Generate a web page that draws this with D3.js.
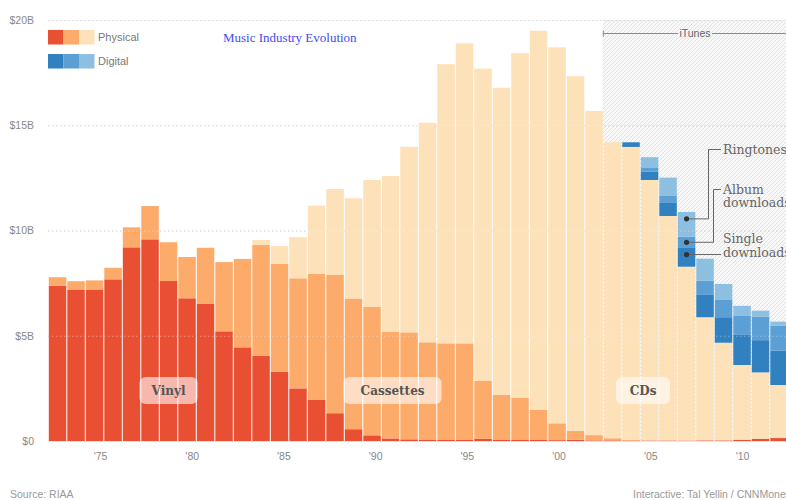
<!DOCTYPE html>
<html><head><meta charset="utf-8">
<script src="https://cdn.jsdelivr.net/npm/d3@7"></script>
<style>body{margin:0;background:#fff}svg{display:block;overflow:hidden}</style>
</head><body><svg id="c" width="786" height="500"></svg>
<script>
// ---- DATA (billions of dollars, inflation-adjusted) ----
const years = [1973,1974,1975,1976,1977,1978,1979,1980,1981,1982,1983,1984,1985,1986,1987,1988,1989,1990,1991,1992,1993,1994,1995,1996,1997,1998,1999,2000,2001,2002,2003,2004,2005,2006,2007,2008,2009,2010,2011,2012];
const vinyl = [7.38,7.20,7.20,7.68,9.20,9.58,7.60,6.78,6.51,5.21,4.45,4.05,3.29,2.50,1.97,1.32,0.56,0.27,0.12,0.08,0.05,0.05,0.05,0.10,0.07,0.05,0.05,0.04,0.06,0.03,0.03,0.02,0.02,0.02,0.02,0.03,0.03,0.06,0.10,0.14];
const cassettes = [0.40,0.39,0.43,0.55,0.95,1.58,1.84,1.96,2.67,3.29,4.20,5.28,5.12,5.23,5.98,6.57,6.21,6.11,5.07,5.08,4.64,4.59,4.59,2.75,2.13,2.01,1.44,0.80,0.42,0.25,0.10,0.03,0.01,0.01,0,0,0,0,0,0];
const cds = [0,0,0,0,0,0,0,0,0,0,0,0.22,0.85,1.95,3.23,4.08,4.76,6.02,7.40,8.82,10.43,13.26,14.25,14.84,14.58,16.36,18.00,17.86,16.85,15.40,14.06,13.92,12.37,10.66,8.26,5.85,4.64,3.55,3.16,2.52];
const singles = [0,0,0,0,0,0,0,0,0,0,0,0,0,0,0,0,0,0,0,0,0,0,0,0,0,0,0,0,0,0,0,0.22,0.39,0.65,0.89,1.06,1.21,1.43,1.53,1.63];
const albums = [0,0,0,0,0,0,0,0,0,0,0,0,0,0,0,0,0,0,0,0,0,0,0,0,0,0,0,0,0,0,0,0,0.21,0.30,0.54,0.67,0.82,0.90,1.11,1.19];
const ringtones = [0,0,0,0,0,0,0,0,0,0,0,0,0,0,0,0,0,0,0,0,0,0,0,0,0,0,0,0,0,0,0,0,0.48,0.87,1.17,1.05,0.76,0.48,0.29,0.19];

const yTicks = [0,5,10,15,20];
const yTickLabels = ["$0","$5B","$10B","$15B","$20B"];
const xTickYears = [1975,1980,1985,1990,1995,2000,2005,2010];
const xTickLabels = ["'75","'80","'85","'90","'95","'00","'05","'10"];

const keys = ["vinyl","cassettes","cds","singles","albums","ringtones"];
const colors = {vinyl:"#e94f33",cassettes:"#fcab6b",cds:"#fde1b8",singles:"#3180c0",albums:"#5b9fd5",ringtones:"#8cbfe0"};

const table = years.map((yr,i)=>({year:yr,vinyl:vinyl[i],cassettes:cassettes[i],cds:cds[i],singles:singles[i],albums:albums[i],ringtones:ringtones[i]}));

// ---- SCALES ----
const svg = d3.select("#c");
const x = d3.scaleBand().domain(years).range([48.8, 787.8]).paddingInner(0.054);
const y = d3.scaleLinear().domain([0,20]).range([441,20]);
const xt = d3.scaleLinear().domain([1975,2010]).range([100,742]);
const sans = "'Liberation Sans Narrow','Arial Narrow','Liberation Sans',Arial,sans-serif";
const serif = "'DejaVu Serif',Georgia,serif";

// ---- HATCH (iTunes era) ----
const defs = svg.append("defs");
const pat = defs.append("pattern").attr("id","hatch").attr("patternUnits","userSpaceOnUse")
  .attr("width",4).attr("height",4);
pat.append("rect").attr("width",4).attr("height",4).attr("fill","#f8f8f8");
pat.append("path").attr("d","M-1,1 l2,-2 M0,4 l4,-4 M3,5 l2,-2").attr("stroke","#e2e2e2").attr("stroke-width",1);

svg.append("rect").attr("x",x(2003)-1).attr("y",y(20)).attr("width",786-(x(2003)-1)).attr("height",y(0)-y(20))
  .attr("fill","url(#hatch)");

// ---- GRID ----
svg.append("g").selectAll("line").data(yTicks.filter(d=>d>0)).join("line")
  .attr("x1",48).attr("x2",786).attr("y1",d=>y(d)+0.5).attr("y2",d=>y(d)+0.5)
  .attr("stroke","#c8c8c8").attr("stroke-dasharray","1.5,2.5");

// ---- BARS ----
const series = d3.stack().keys(keys)(table);
svg.append("g").selectAll("g").data(series).join("g").attr("fill",s=>colors[s.key])
  .selectAll("rect").data(s=>s.filter(d=>d[1]-d[0]>0)).join("rect")
  .attr("x",d=>x(d.data.year)).attr("width",x.bandwidth())
  .attr("y",d=>y(d[1])).attr("height",d=>y(d[0])-y(d[1]));

// faint grid over bars
svg.append("g").selectAll("line").data(yTicks.filter(d=>d>0)).join("line")
  .attr("x1",48).attr("x2",786).attr("y1",d=>y(d)+0.5).attr("y2",d=>y(d)+0.5)
  .attr("stroke","#ffffff").attr("stroke-opacity",0.35).attr("stroke-dasharray","1.5,2.5");

// baseline
svg.append("line").attr("x1",48).attr("x2",786).attr("y1",y(0)+0.5).attr("y2",y(0)+0.5).attr("stroke","#e4e4e4");

// ---- AXES ----
const ya = svg.append("g").attr("transform","translate(36,0)")
  .call(d3.axisLeft(y).tickValues(yTicks).tickFormat((d,i)=>yTickLabels[i]).tickSize(0).tickPadding(2));
ya.select(".domain").remove();
ya.selectAll("text").attr("fill","#888").style("font-family",sans).style("font-size","10.5px");

const xa = svg.append("g").attr("transform",`translate(0,${y(0)})`)
  .call(d3.axisBottom(xt).tickValues(xTickYears).tickFormat((d,i)=>xTickLabels[i]).tickSize(0).tickPadding(12));
xa.select(".domain").remove();
xa.selectAll("text").attr("fill","#888").style("font-family",sans).style("font-size","10.5px");

// ---- ERA LABELS ----
const eraLabels = [
  {text:"Vinyl", year:1979, dx:0, v:2.4, w:58},
  {text:"Cassettes", year:1991, dx:2, v:2.4, w:98},
  {text:"CDs", year:2004, dx:12, v:2.4, w:54}
];
const eg = svg.append("g").selectAll("g").data(eraLabels).join("g")
  .attr("transform",d=>`translate(${x(d.year)+x.bandwidth()/2+d.dx},${y(d.v)})`);
eg.append("rect").attr("x",d=>-d.w/2).attr("y",-13.5).attr("width",d=>d.w).attr("height",27)
  .attr("rx",6).attr("fill","#fff").attr("fill-opacity",0.6);
eg.append("text").text(d=>d.text).attr("text-anchor","middle").attr("dy","0.36em")
  .attr("fill","#555").style("font-family",serif).style("font-weight","bold").style("font-size","12px");

// ---- iTunes marker ----
const it = svg.append("g").attr("stroke","#8a8a8a");
it.append("line").attr("x1",x(2003)-1).attr("x2",678).attr("y1",33.5).attr("y2",33.5);
it.append("line").attr("x1",712).attr("x2",786).attr("y1",33.5).attr("y2",33.5);
it.append("line").attr("x1",x(2003)-0.5).attr("x2",x(2003)-0.5).attr("y1",30.5).attr("y2",36.5);
svg.append("text").text("iTunes").attr("x",695).attr("y",37).attr("text-anchor","middle")
  .attr("fill","#666").style("font-family",sans).style("font-size","10.5px");

// ---- DIGITAL ANNOTATIONS ----
const annYear = 2007;
const ai = years.indexOf(annYear);
const cx = x(annYear)+x.bandwidth()/2;
const phys = vinyl[ai]+cassettes[ai]+cds[ai];
const dotS = y(phys + singles[ai]*0.65);
const dotA = y(phys + singles[ai] + albums[ai]*0.5);
const dotR = y(phys + singles[ai] + albums[ai] + ringtones[ai]*0.72);
const ag = svg.append("g");
const lp = ag.append("g").attr("fill","none").attr("stroke","#666").attr("stroke-width",1);
lp.append("path").attr("d",`M${cx},${dotR}H708.5V149.5H721`);
lp.append("path").attr("d",`M${cx},${dotA}H713.5V189.5H721`);
lp.append("path").attr("d",`M${cx},${dotS}H721`);
ag.selectAll("circle").data([dotR,dotA,dotS]).join("circle").attr("cx",cx).attr("cy",d=>d).attr("r",2.6).attr("fill","#333");
const annText = [
  {t:"Ringtones", yy:149.5},
  {t:"Album", yy:189},
  {t:"downloads", yy:202.5},
  {t:"Single", yy:238.5},
  {t:"downloads", yy:252}
];
ag.selectAll("text").data(annText).join("text").text(d=>d.t).attr("x",723).attr("y",d=>d.yy).attr("dy","0.36em")
  .attr("fill","#666").style("font-family",serif).style("font-size","12.5px");

// ---- LEGEND ----
const legend = [
  {label:"Physical", cols:[colors.vinyl,colors.cassettes,colors.cds], yy:30},
  {label:"Digital", cols:[colors.singles,colors.albums,colors.ringtones], yy:54}
];
const lg = svg.append("g").selectAll("g").data(legend).join("g").attr("transform",d=>`translate(48,${d.yy})`);
lg.selectAll("rect").data(d=>d.cols).join("rect").attr("x",(d,i)=>i*15.5).attr("y",0).attr("width",15.5).attr("height",14.5).attr("fill",d=>d);
lg.append("text").text(d=>d.label).attr("x",50).attr("y",7.5).attr("dy","0.36em")
  .attr("fill","#777").style("font-family",sans).style("font-size","11px");

// ---- TITLE & FOOTER ----
svg.append("text").text("Music Industry Evolution").attr("x",223).attr("y",42)
  .attr("fill","#3d4df5").style("font-family","'Liberation Serif','Times New Roman',serif").style("font-size","13px");
svg.append("text").text("Source: RIAA").attr("x",10).attr("y",498)
  .attr("fill","#999").style("font-family",sans).style("font-size","10.5px");
svg.append("text").text("Interactive: Tal Yellin / CNNMoney").attr("x",633).attr("y",498)
  .attr("fill","#999").style("font-family",sans).style("font-size","10.5px");
</script></body></html>
